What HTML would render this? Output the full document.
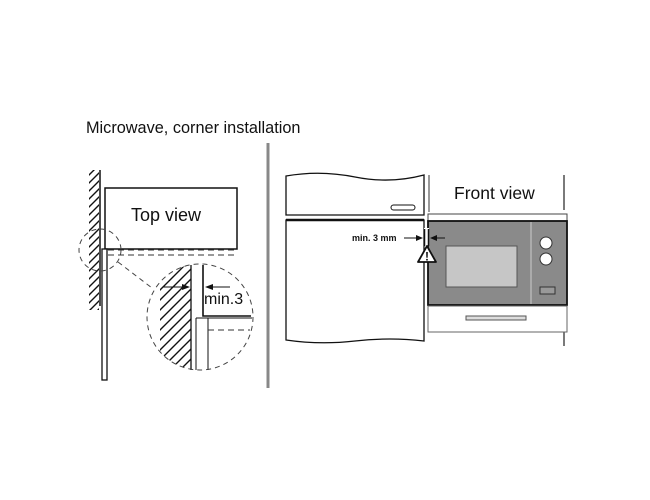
<!DOCTYPE html>
<html><head><style>body{margin:0;background:#fff}svg{display:block}</style></head><body>
<svg width="650" height="500" viewBox="0 0 650 500" xmlns="http://www.w3.org/2000/svg" font-family="Liberation Sans, sans-serif">
<defs>
<pattern id="h" width="8" height="8" patternUnits="userSpaceOnUse"><path d="M0,8 L8,0 M-2,2 L2,-2 M6,10 L10,6" stroke="#111" stroke-width="1.4"/></pattern>
<pattern id="h2" width="10" height="10" patternUnits="userSpaceOnUse"><path d="M0,10 L10,0 M-2,2 L2,-2 M8,12 L12,8" stroke="#111" stroke-width="1.4"/></pattern>
<clipPath id="cc"><circle cx="200" cy="317" r="53"/></clipPath>
</defs>
<text x="86" y="133" font-size="16.3" fill="#111">Microwave, corner installation</text>
<line x1="268" y1="143" x2="268" y2="388" stroke="#888" stroke-width="3"/>
<rect x="89" y="170" width="10" height="140" fill="url(#h)"/>
<line x1="100" y1="170" x2="100" y2="306" stroke="#111" stroke-width="1.5"/>
<rect x="105" y="188" width="132" height="61" fill="#fff" stroke="#111" stroke-width="1.5"/>
<text x="131" y="221" font-size="18" fill="#111">Top view</text>
<line x1="108" y1="255" x2="237" y2="255" stroke="#333" stroke-dasharray="6,4"/>
<line x1="108" y1="250" x2="237" y2="250" stroke="#333" stroke-dasharray="6,4"/>
<rect x="102" y="249" width="5" height="131" fill="#fff" stroke="#111" stroke-width="1.3"/>
<circle cx="100" cy="250" r="21" fill="none" stroke="#444" stroke-dasharray="5,4"/>
<line x1="118" y1="262" x2="152" y2="288" stroke="#444" stroke-dasharray="5,4"/>
<g clip-path="url(#cc)">
<rect x="160" y="262" width="31" height="112" fill="url(#h2)"/>
</g>
<line x1="191" y1="265" x2="191" y2="370" stroke="#111" stroke-width="1.3"/>
<line x1="196" y1="318" x2="196" y2="370" stroke="#111"/>
<line x1="208" y1="318" x2="208" y2="370" stroke="#111"/>
<line x1="196" y1="318" x2="252" y2="318" stroke="#111"/>
<polyline points="203,265 203,316 251,316" fill="none" stroke="#111" stroke-width="1.6"/>
<line x1="208" y1="330" x2="250" y2="330" stroke="#333" stroke-dasharray="6,4"/>
<circle cx="200" cy="317" r="53" fill="none" stroke="#444" stroke-dasharray="5,4"/>
<line x1="163" y1="287" x2="184" y2="287" stroke="#111"/><polygon points="190,287 182,284 182,290" fill="#111"/>
<line x1="211" y1="287" x2="230" y2="287" stroke="#111"/><polygon points="205,287 213,284 213,290" fill="#111"/>
<text x="204" y="304" font-size="16" fill="#111">min.3</text>
<path d="M286,176 Q320,170 355,177 T424,175 L424,215 L286,215 Z" fill="#fff" stroke="#111" stroke-width="1.3"/>
<rect x="391" y="205" width="24" height="5" rx="2.5" fill="#fff" stroke="#111"/>
<path d="M286,220 L424,220 L424,341 Q390,337 355,341 T286,340 Z" fill="#fff" stroke="#111" stroke-width="1.3"/>
<line x1="286" y1="220" x2="424" y2="220" stroke="#111" stroke-width="2.5"/>
<line x1="429" y1="175" x2="429" y2="212" stroke="#333"/>
<line x1="564" y1="175" x2="564" y2="210" stroke="#333" stroke-width="1.3"/>
<line x1="564" y1="330" x2="564" y2="346" stroke="#333" stroke-width="1.3"/>
<text x="454" y="199" font-size="17.5" fill="#111">Front view</text>
<rect x="428" y="214" width="139" height="8" fill="#fff" stroke="#444"/>
<rect x="428" y="221" width="139" height="84" fill="#8a8a8a" stroke="#111" stroke-width="1.8"/>
<line x1="531" y1="222" x2="531" y2="304" stroke="#ccc"/>
<rect x="446" y="246" width="71" height="41" fill="#c6c6c6" stroke="#555"/>
<circle cx="546" cy="243" r="6" fill="#fff" stroke="#333"/>
<circle cx="546" cy="259" r="6" fill="#fff" stroke="#333"/>
<rect x="540" y="287" width="15" height="7" fill="#999" stroke="#333"/>
<rect x="428" y="306" width="139" height="26" fill="#fff" stroke="#666"/>
<rect x="466" y="316" width="60" height="4" fill="#ddd" stroke="#555"/>
<rect x="424" y="228" width="5" height="18" fill="#fff"/>
<line x1="424.5" y1="229" x2="424.5" y2="246" stroke="#111" stroke-width="1.5"/>
<line x1="428.5" y1="229" x2="428.5" y2="246" stroke="#111" stroke-width="1.5"/>
<text x="352" y="241" font-size="9" font-weight="bold" fill="#111">min. 3 mm</text>
<line x1="404" y1="238" x2="418" y2="238" stroke="#111"/><polygon points="423,238 416,235 416,241" fill="#111"/>
<line x1="436" y1="238" x2="445" y2="238" stroke="#111"/><polygon points="430,238 437,235 437,241" fill="#111"/>
<polygon points="427,246 418,262 436,262" fill="#fff" stroke="#111" stroke-width="1.8" stroke-linejoin="round"/>
<text x="427" y="260.5" font-size="12" font-weight="bold" text-anchor="middle" fill="#111">!</text>
</svg>
</body></html>
